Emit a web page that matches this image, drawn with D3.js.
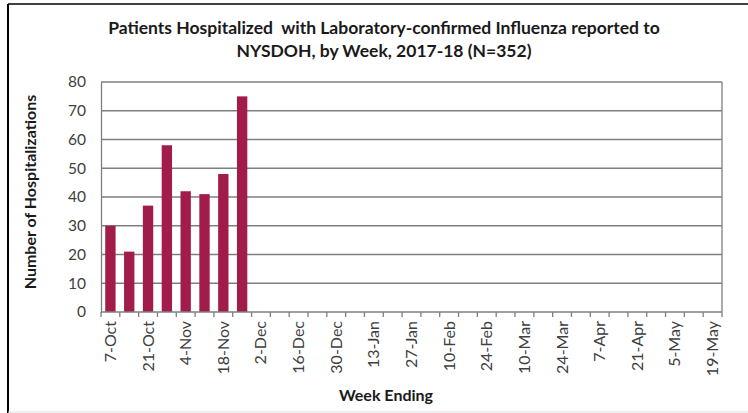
<!DOCTYPE html>
<html><head><meta charset="utf-8">
<script src="https://cdn.jsdelivr.net/npm/d3@7"></script>
<style>body{margin:0;background:#fff;}svg{display:block;}</style>
</head><body>
<script>
const weeks = ["7-Oct","14-Oct","21-Oct","28-Oct","4-Nov","11-Nov","18-Nov","25-Nov","2-Dec","9-Dec","16-Dec","23-Dec","30-Dec","6-Jan","13-Jan","20-Jan","27-Jan","3-Feb","10-Feb","17-Feb","24-Feb","3-Mar","10-Mar","17-Mar","24-Mar","31-Mar","7-Apr","14-Apr","21-Apr","28-Apr","5-May","12-May","19-May"];
const hospitalizations = [30,21,37,58,42,41,48,75];
const yTicks = [0,10,20,30,40,50,60,70,80];
const titleLines = ["Patients Hospitalized  with Laboratory-confirmed Influenza reported to","NYSDOH, by Week, 2017-18 (N=352)"];

const W=748,H=413;
const svg=d3.select("body").append("svg").attr("width",W).attr("height",H);
const font="Lato, 'Open Sans', sans-serif";
// outer border
svg.append("line").attr("x1",8).attr("x2",W).attr("y1",4).attr("y2",4).attr("stroke","#000").attr("stroke-width",1.5);
svg.append("line").attr("x1",8).attr("x2",8).attr("y1",4).attr("y2",H).attr("stroke","#000").attr("stroke-width",2);
svg.append("line").attr("x1",8).attr("x2",W).attr("y1",412).attr("y2",412).attr("stroke","#ddd").attr("stroke-width",1);

const m={l:101,r:722,t:82,b:312};
const x=d3.scaleBand().domain(weeks).range([m.l,m.r]).paddingInner(0.45).paddingOuter(0.225);
const y=d3.scaleLinear().domain([0,80]).range([m.b,m.t]);

// gridlines
svg.append("g").selectAll("line").data(yTicks.filter(d=>d>0)).join("line")
 .attr("x1",m.l).attr("x2",m.r).attr("y1",d=>y(d)).attr("y2",d=>y(d))
 .attr("stroke","#7f7f7f").attr("stroke-width",1.3);
// right border
svg.append("line").attr("x1",m.r).attr("x2",m.r).attr("y1",m.t).attr("y2",m.b).attr("stroke","#7f7f7f").attr("stroke-width",1.3);

// bars
svg.append("g").selectAll("rect").data(hospitalizations).join("rect")
 .attr("x",(d,i)=>x(weeks[i])).attr("width",x.bandwidth())
 .attr("y",d=>y(d)).attr("height",d=>y(0)-y(d)).attr("fill","#A21C4B");

// y axis
const ya=svg.append("g").attr("transform",`translate(${m.l},0)`)
 .call(d3.axisLeft(y).tickValues(yTicks).tickSize(0).tickPadding(15));
ya.select(".domain").attr("stroke","#7f7f7f").attr("stroke-width",1.3);
ya.selectAll("text").attr("font-family",font).attr("font-size",15.5).attr("fill","#404040");

// x axis
const step=x.step();
const xa=svg.append("g").attr("transform",`translate(0,${m.b})`);
xa.append("line").attr("x1",m.l).attr("x2",m.r).attr("stroke","#7f7f7f").attr("stroke-width",1.3);
xa.selectAll("line.t").data(d3.range(weeks.length+1)).join("line").attr("class","t")
 .attr("x1",i=>m.l+i*step).attr("x2",i=>m.l+i*step).attr("y1",0).attr("y2",5)
 .attr("stroke","#7f7f7f").attr("stroke-width",1.3);
xa.selectAll("text").data(weeks.filter((d,i)=>i%2===0)).join("text")
 .attr("transform",d=>`translate(${x(d)+x.bandwidth()/2+5.5},9) rotate(-90)`)
 .attr("text-anchor","end").attr("font-family",font).attr("font-size",16).attr("fill","#404040")
 .text(d=>d);

// titles
svg.append("g").selectAll("text").data(titleLines).join("text")
 .attr("x",384).attr("y",(d,i)=>34+i*23).attr("text-anchor","middle")
 .attr("font-family",font).attr("font-weight","bold").attr("font-size",17.5).attr("fill","#1a1a1a")
 .style("white-space","pre").text(d=>d);
svg.append("text").attr("transform","translate(36,192) rotate(-90)").attr("text-anchor","middle")
 .attr("font-family",font).attr("font-weight","bold").attr("font-size",16).attr("fill","#1a1a1a")
 .text("Number of Hospitalizations");
svg.append("text").attr("x",386).attr("y",401).attr("text-anchor","middle")
 .attr("font-family",font).attr("font-weight","bold").attr("font-size",16).attr("fill","#1a1a1a")
 .text("Week Ending");
</script>
</body></html>
